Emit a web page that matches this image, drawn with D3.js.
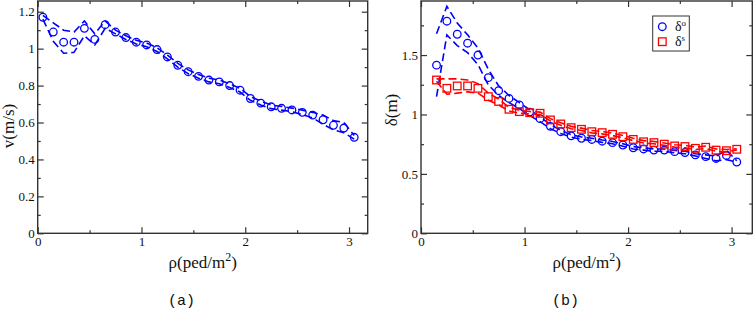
<!DOCTYPE html>
<html>
<head>
<meta charset="utf-8">
<script src="https://cdn.jsdelivr.net/npm/d3@7"></script>
<style>
  body { margin: 0; background: #fff; }
  svg { display: block; }
</style>
</head>
<body>
<svg width="753" height="311"></svg>
<script>
// density values (ped/m^2)
const rhoA = [0.05,0.15,0.25,0.35,0.45,0.55,0.65,0.75,0.85,0.95,1.05,1.15,1.25,1.35,1.45,1.55,1.65,1.75,1.85,1.95,2.05,2.15,2.25,2.35,2.45,2.55,2.65,2.75,2.85,2.95,3.05];
const rhoB = [0.15,0.25,0.35,0.45,0.55,0.65,0.75,0.85,0.95,1.05,1.15,1.25,1.35,1.45,1.55,1.65,1.75,1.85,1.95,2.05,2.15,2.25,2.35,2.45,2.55,2.65,2.75,2.85,2.95,3.05];

// panel (a): speed
const vMean  = [1.17,1.09,1.035,1.035,1.11,1.05,1.13,1.09,1.06,1.035,1.02,0.995,0.955,0.91,0.875,0.85,0.83,0.82,0.80,0.775,0.73,0.705,0.685,0.677,0.668,0.655,0.64,0.615,0.585,0.57,0.52];
const vUpper = [1.18,1.14,1.10,1.09,1.15,1.08,1.15,1.10,1.07,1.045,1.03,1.005,0.965,0.92,0.885,0.86,0.84,0.83,0.81,0.785,0.74,0.715,0.695,0.687,0.678,0.667,0.655,0.64,0.61,0.60,0.53];
const vLower = [1.16,1.04,0.975,0.98,1.07,1.02,1.11,1.08,1.05,1.025,1.01,0.985,0.945,0.90,0.865,0.84,0.82,0.81,0.79,0.765,0.72,0.695,0.675,0.667,0.658,0.643,0.625,0.59,0.56,0.545,0.51];

// panel (b): delta^o (blue) and delta^s (red)
const dOMean  = [1.415,1.785,1.675,1.60,1.50,1.31,1.20,1.135,1.08,1.02,0.965,0.90,0.855,0.82,0.80,0.79,0.775,0.763,0.743,0.72,0.71,0.70,0.70,0.687,0.68,0.66,0.645,0.63,0.655,0.60];
const dOUpper = [1.68,1.91,1.77,1.67,1.56,1.38,1.24,1.16,1.10,1.04,0.98,0.915,0.865,0.83,0.81,0.80,0.785,0.773,0.753,0.73,0.72,0.71,0.71,0.697,0.69,0.67,0.66,0.65,0.70,0.61];
const dOLower = [1.15,1.67,1.58,1.52,1.42,1.25,1.16,1.10,1.05,0.99,0.94,0.88,0.84,0.81,0.79,0.78,0.765,0.753,0.733,0.71,0.70,0.69,0.69,0.677,0.67,0.65,0.63,0.61,0.62,0.60];
const dSMean  = [1.29,1.22,1.24,1.24,1.22,1.15,1.11,1.044,1.024,1.015,1.01,0.954,0.92,0.889,0.875,0.855,0.847,0.833,0.813,0.79,0.77,0.763,0.75,0.735,0.73,0.715,0.724,0.70,0.695,0.707];
const dSUpper = [1.30,1.30,1.30,1.29,1.26,1.18,1.13,1.06,1.035,1.025,1.02,0.965,0.93,0.90,0.885,0.865,0.857,0.843,0.823,0.80,0.78,0.773,0.76,0.745,0.74,0.725,0.734,0.71,0.705,0.712];
const dSLower = [1.28,1.17,1.18,1.19,1.18,1.12,1.08,1.03,1.01,1.005,1.0,0.945,0.91,0.88,0.865,0.845,0.837,0.823,0.803,0.78,0.76,0.753,0.74,0.725,0.72,0.705,0.714,0.69,0.685,0.702];

// ticks
const xTicks = [0,1,2,3];
const xMinor = [0.5,1.5,2.5];
const yTicksA = [0,0.2,0.4,0.6,0.8,1,1.2];
const yMinorA = [0.1,0.3,0.5,0.7,0.9,1.1];
const yTicksB = [0,0.5,1,1.5];
const yMinorB = [0.25,0.75,1.25,1.75];

const SERIF = "'Liberation Serif', 'DejaVu Serif', serif";
const MONO = "'Liberation Mono', 'DejaVu Sans Mono', monospace";

const svg = d3.select("svg");
const plotTop = 1, plotBottom = 233.3;

function panel(opt) {
  const x = d3.scaleLinear().domain([0, opt.xmax]).range([opt.left, opt.right]);
  const y = d3.scaleLinear().domain([0, opt.ymax]).range([plotBottom, plotTop]);
  const g = svg.append("g").attr("font-family", SERIF);

  // axes: major + minor ticks on all four sides, pointing inward
  const addAxis = (axis, tr, labels) => {
    const a = g.append("g").attr("transform", tr).call(axis)
      .attr("font-family", SERIF).attr("font-size", 13);
    a.select(".domain").remove();
    a.selectAll("line").attr("stroke", "#333").attr("stroke-width", 1.2);
    a.selectAll("text").attr("fill", "#111");
    if (!labels) a.selectAll("text").remove();
    return a;
  };
  addAxis(d3.axisBottom(x).tickValues(xTicks).tickSize(-6).tickPadding(3.5).tickFormat(d3.format("d")), `translate(0,${plotBottom})`, true);
  addAxis(d3.axisBottom(x).tickValues(xMinor).tickSize(-3).tickFormat(""), `translate(0,${plotBottom})`, false);
  addAxis(d3.axisTop(x).tickValues(xTicks).tickSize(-6).tickFormat(""), `translate(0,${plotTop})`, false);
  addAxis(d3.axisTop(x).tickValues(xMinor).tickSize(-3).tickFormat(""), `translate(0,${plotTop})`, false);
  addAxis(d3.axisLeft(y).tickValues(opt.yTicks).tickSize(-6).tickPadding(3).tickFormat(d => String(d)), `translate(${opt.left},0)`, true);
  addAxis(d3.axisLeft(y).tickValues(opt.yMinor).tickSize(-3).tickFormat(""), `translate(${opt.left},0)`, false);
  addAxis(d3.axisRight(y).tickValues(opt.yTicks).tickSize(-6).tickFormat(""), `translate(${opt.right},0)`, false);
  addAxis(d3.axisRight(y).tickValues(opt.yMinor).tickSize(-3).tickFormat(""), `translate(${opt.right},0)`, false);

  g.append("rect")
    .attr("x", opt.left).attr("y", plotTop)
    .attr("width", opt.right - opt.left).attr("height", plotBottom - plotTop)
    .attr("fill", "none").attr("stroke", "#333").attr("stroke-width", 1.4);

  const line = d3.line().x(d => x(d[0])).y(d => y(d[1]));

  opt.series.forEach(s => {
    [s.upper, s.lower].forEach(arr => {
      g.append("path")
        .datum(s.xs.map((r, i) => [r, arr[i]]))
        .attr("d", line)
        .attr("fill", "none")
        .attr("stroke", s.color)
        .attr("stroke-width", 1.6)
        .attr("stroke-dasharray", "8,4");
    });
    const pts = s.xs.map((r, i) => [r, s.mean[i]]);
    if (s.shape === "circle") {
      g.selectAll(null).data(pts).enter().append("circle")
        .attr("cx", d => x(d[0])).attr("cy", d => y(d[1])).attr("r", 3.8)
        .attr("fill", "none").attr("stroke", s.color).attr("stroke-width", 1.3);
    } else {
      g.selectAll(null).data(pts).enter().append("rect")
        .attr("x", d => x(d[0]) - 3.8).attr("y", d => y(d[1]) - 3.8)
        .attr("width", 7.6).attr("height", 7.6)
        .attr("fill", "none").attr("stroke", s.color).attr("stroke-width", 1.3);
    }
  });

  // axis titles
  const xt = g.append("text")
    .attr("x", (opt.left + opt.right) / 2).attr("y", 268)
    .attr("text-anchor", "middle").attr("font-size", 17).attr("fill", "#111");
  xt.append("tspan").text("ρ(ped/m");
  xt.append("tspan").attr("dy", -7).attr("font-size", 12).text("2");
  xt.append("tspan").attr("dy", 7).text(")");

  g.append("text")
    .attr("transform", `translate(${opt.ylabX},${opt.ylabY}) rotate(-90)`)
    .attr("text-anchor", "middle").attr("font-size", 17).attr("fill", "#111")
    .text(opt.ylabel);

  g.append("text")
    .attr("x", opt.capX).attr("y", 305)
    .attr("font-family", MONO).attr("font-size", 15).attr("fill", "#111")
    .text(opt.caption);

  return { x, y, g };
}

panel({
  left: 37.7, right: 367.7, xmax: 3.18, ymax: 1.258,
  yTicks: yTicksA, yMinor: yMinorA,
  ylabel: "v(m/s)", ylabX: 14, ylabY: 126, caption: "(a)", capX: 168,
  series: [{ xs: rhoA, mean: vMean, upper: vUpper, lower: vLower, color: "#0000ff", shape: "circle" }]
});

panel({
  left: 421, right: 752.3, xmax: 3.2, ymax: 1.955,
  yTicks: yTicksB, yMinor: yMinorB,
  ylabel: "δ(m)", ylabX: 397, ylabY: 110, caption: "(b)", capX: 552,
  series: [
    { xs: rhoB, mean: dOMean, upper: dOUpper, lower: dOLower, color: "#0000ff", shape: "circle" },
    { xs: rhoB, mean: dSMean, upper: dSUpper, lower: dSLower, color: "#ff0000", shape: "square" }
  ]
});

// legend
const leg = svg.append("g").attr("font-family", SERIF);
leg.append("rect").attr("x", 652.7).attr("y", 16).attr("width", 36.6).attr("height", 35)
  .attr("fill", "#fff").attr("stroke", "#333").attr("stroke-width", 1);
leg.append("circle").attr("cx", 662.3).attr("cy", 26.7).attr("r", 3.8)
  .attr("fill", "none").attr("stroke", "#0000ff").attr("stroke-width", 1.3);
leg.append("rect").attr("x", 662.3 - 3.8).attr("y", 41.7 - 3.8).attr("width", 7.6).attr("height", 7.6)
  .attr("fill", "none").attr("stroke", "#ff0000").attr("stroke-width", 1.3);
[["o", 31], ["s", 46]].forEach(([sup, yy]) => {
  const t = leg.append("text").attr("x", 675).attr("y", yy).attr("font-size", 14).attr("fill", "#111");
  t.append("tspan").text("δ");
  t.append("tspan").attr("dy", -5).attr("font-size", 9).text(sup);
});
</script>
</body>
</html>
